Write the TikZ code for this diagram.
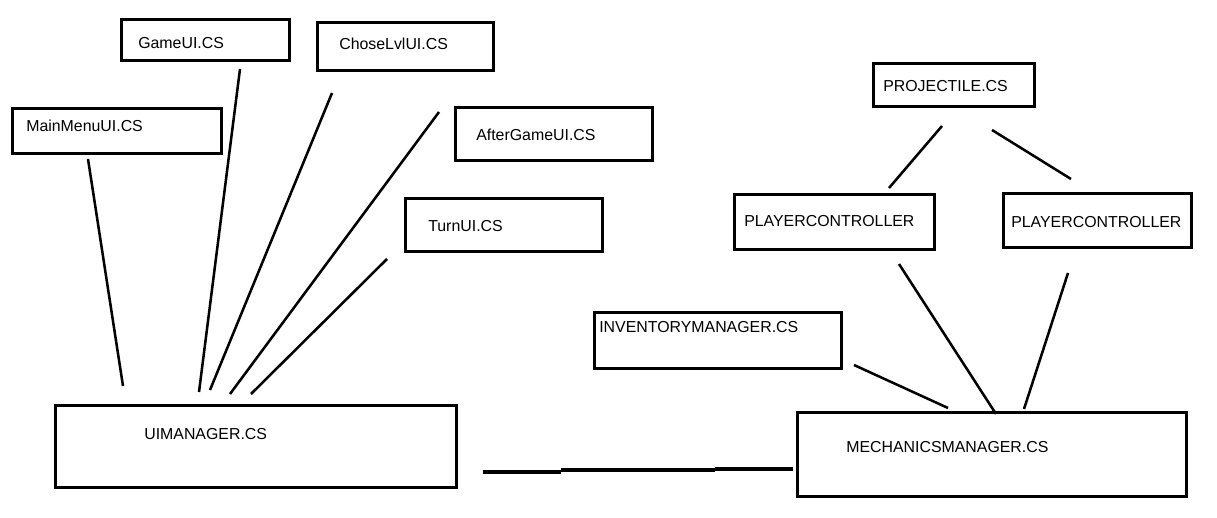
\documentclass[tikz,border=0pt]{standalone}
\usepackage{fontspec}
\setmainfont{Liberation Sans}
\usepackage{tikz}
\tikzset{cls/.style 2 args={draw, line width=2.1pt, inner sep=0pt,
    minimum width=#1*0.025cm, minimum height=#2*0.025cm},
  lbl/.style={inner sep=0pt, anchor=base west, font=\fontsize{11.3}{13}\selectfont},
  lnk/.style={line width=1.8pt}
}

\begin{document}
\begin{tikzpicture}[x=0.025cm,y=-0.025cm]
            \useasboundingbox (0,0) rectangle (1217,518);

            % UI classes
            \node[cls={168}{41}] (gameui) at (205.5,40) {};
            \node[cls={176}{48}] (choselvl) at (405.5,46.5) {};
            \node[cls={209}{45}] (mainmenu) at (117,131) {};
            \node[cls={197}{53}] (aftergame) at (554,134) {};
            \node[cls={197}{53}] (turnui) at (504,225) {};
            \node[cls={401}{82}] (uimanager) at (256,446.5) {};

            % Mechanics classes
            \node[cls={161}{43}] (projectile) at (954,85) {};
            \node[cls={200}{55}] (playerA) at (834.5,222) {};
            \node[cls={188}{54}] (playerB) at (1097.5,220.5) {};
            \node[cls={247}{56}] (inventory) at (718,340.5) {};
            \node[cls={389}{84}] (mechanics) at (992,454.5) {};

            % Labels
            \node[lbl] (gameui-t) at (138,48.5) {GameUI.CS};
            \node[lbl] (choselvl-t) at (339,49.5) {ChoseLvlUI.CS};
            \node[lbl] (mainmenu-t) at (26,131.5) {MainMenuUI.CS};
            \node[lbl] (aftergame-t) at (476,140.5) {AfterGameUI.CS};
            \node[lbl] (turnui-t) at (428,231.5) {TurnUI.CS};
            \node[lbl] (uimanager-t) at (144,439.5) {UIMANAGER.CS};
            \node[lbl] (projectile-t) at (883,91.5) {PROJECTILE.CS};
            \node[lbl] (playerA-t) at (744,226.5) {PLAYERCONTROLLER};
            \node[lbl] (playerB-t) at (1011,227.5) {PLAYERCONTROLLER};
            \node[lbl] (inventory-t) at (599,332.5) {INVENTORYMANAGER.CS};
            \node[lbl] (mechanics-t) at (846,452.5) {MECHANICSMANAGER.CS};

            % Link ends
            \coordinate (mm1) at (88,159);   \coordinate (mm2) at (123,386);
            \coordinate (gu1) at (240,69);   \coordinate (gu2) at (199,392);
            \coordinate (cl1) at (332,93);   \coordinate (cl2) at (210,390);
            \coordinate (ag1) at (439,112);  \coordinate (ag2) at (230,394);
            \coordinate (tu1) at (387,259);  \coordinate (tu2) at (251,394);
            \coordinate (pr1) at (942,126);  \coordinate (pa1) at (889,188);
            \coordinate (pr2) at (992,130);  \coordinate (pb1) at (1071,179);
            \coordinate (pa2) at (899,264);  \coordinate (me1) at (996,414);
            \coordinate (pb2) at (1068,273); \coordinate (me2) at (1024,409);
            \coordinate (in1) at (854,365);  \coordinate (me3) at (948,408);
            \coordinate (ui1) at (483,472);  \coordinate (k1) at (561,472);
            \coordinate (k2) at (561,470);   \coordinate (k3) at (715,470);
            \coordinate (k4) at (715,469);   \coordinate (me4) at (793,469);

            % UI links
            \draw[lnk] (mm1) -- (mm2);
            \draw[lnk] (gu1) -- (gu2);
            \draw[lnk] (cl1) -- (cl2);
            \draw[lnk] (ag1) -- (ag2);
            \draw[lnk] (tu1) -- (tu2);

            % Mechanics links
            \draw[lnk] (pr1) -- (pa1);
            \draw[lnk] (pr2) -- (pb1);
            \draw[lnk] (pa2) -- (me1);
            \draw[lnk] (pb2) -- (me2);
            \draw[lnk] (in1) -- (me3);

            % Manager to manager
            \draw[line width=2.2pt] (ui1) -- (k1) (k2) -- (k3) (k4) -- (me4);
        \end{tikzpicture}
\end{document}
